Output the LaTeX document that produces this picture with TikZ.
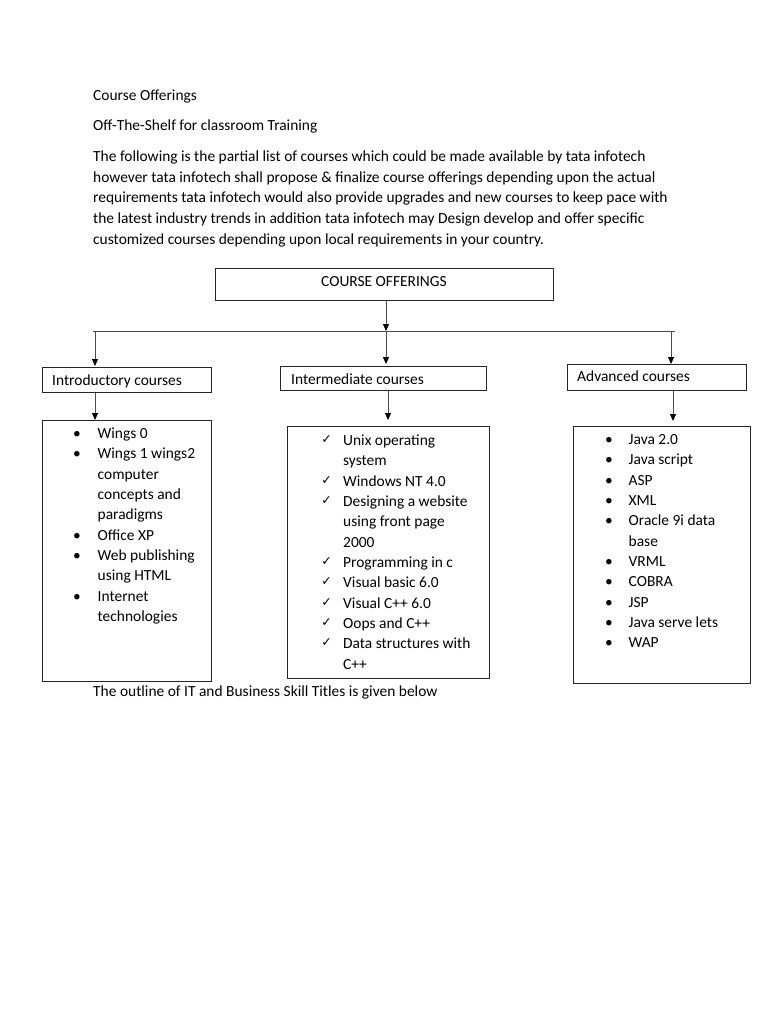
\documentclass[tikz,border=0pt]{standalone}
\usepackage{fontspec}
\setmainfont{Carlito}
\newfontfamily\symfont{DejaVu Sans}
\usetikzlibrary{arrows.meta}
\tikzset{
  txt/.style={anchor=base west, inner sep=0pt, font=\fontsize{15.45}{20}\selectfont},
  ctxt/.style={anchor=base, inner sep=0pt, font=\fontsize{15.45}{20}\selectfont},
  bul/.style={anchor=base, inner sep=0pt, font=\fontsize{15.45}{20}\selectfont},
  chk/.style={anchor=base, inner sep=0pt, font=\symfont\fontsize{12.5}{14}\selectfont},
  boxnode/.style={draw=black!85, line width=0.9pt, inner sep=0pt, anchor=north west},
  conn/.style={draw=black!70, line width=0.8pt},
  arr/.style={conn, -{Triangle[length=7pt,width=6pt,color=black]}}
}
\begin{document}
\begin{tikzpicture}[x=1pt,y=-1pt]
\useasboundingbox[fill=white] (0,0) rectangle (768,1024);

% heading text
\node[txt] (t1) at (93,101) {Course Offerings};
\node[txt] (t2) at (93,131) {Off-The-Shelf for classroom Training};
\node[txt] (p1) at (93,162) {The following is the partial list of courses which could be made available by tata infotech};
\node[txt] (p2) at (93,182.5) {however tata infotech shall propose \& finalize course offerings depending upon the actual};
\node[txt] (p3) at (93,203) {requirements tata infotech would also provide upgrades and new courses to keep pace with};
\node[txt] (p4) at (93,223.5) {the latest industry trends in addition tata infotech may Design develop and offer specific};
\node[txt] (p5) at (93,244) {customized courses depending upon local requirements in your country.};

% top box
\node[boxnode, minimum width=338pt, minimum height=32pt] (top) at (215,268) {};
\node[ctxt] (toplbl) at (384,286) {COURSE OFFERINGS};

% horizontal bar
\coordinate (hl) at (93,331);
\coordinate (hr) at (675,331);
\draw[conn] (hl) -- (hr);
\coordinate (hm) at (386,331);
\draw[arr] (top.south -| hm) -- (hm);

% level-2 boxes
\node[boxnode, minimum width=169pt, minimum height=25pt] (intro) at (42,367) {};
\node[txt] (introlbl) at (52,385.5) {Introductory courses};
\node[boxnode, minimum width=206pt, minimum height=24pt] (inter) at (280,366) {};
\node[txt] (interlbl) at (291,384) {Intermediate courses};
\node[boxnode, minimum width=179pt, minimum height=26pt] (adv) at (567,364) {};
\node[txt] (advlbl) at (577,381) {Advanced courses};

\coordinate (j1) at (95,331);
\coordinate (j2) at (386,331);
\coordinate (j3) at (671,331);
\coordinate (e1) at (95,366);
\coordinate (e2) at (386,364);
\coordinate (e3) at (671,364);
\draw[arr] (j1) -- (e1);
\draw[arr] (j2) -- (e2);
\draw[arr] (j3) -- (e3);

% list boxes
\node[boxnode, minimum width=169pt, minimum height=261pt] (listL) at (42,420) {};
\node[boxnode, minimum width=202pt, minimum height=252pt] (listM) at (287,426) {};
\node[boxnode, minimum width=177pt, minimum height=257pt] (listR) at (573,426) {};

\coordinate (f1) at (95,420);
\coordinate (f2) at (388,420);
\coordinate (f3) at (673,421);
\draw[arr] (intro.south -| f1) -- (f1);
\draw[arr] (inter.south -| f2) -- (f2);
\draw[arr] (adv.south -| f3) -- (f3);

% left list
\foreach [count=\i] \t/\b in {Wings 0/1, Wings 1 wings2/1, computer/0, concepts and/0, paradigms/0, Office XP/1, Web publishing/1, using HTML/0, Internet/1, technologies/0} {
  \node[txt] (la\i) at (97.5, {438.5+20.35*(\i-1)}) {\t};
  \ifnum\b=1 \node[bul] (lb\i) at (77, {438.5+20.35*(\i-1)}) {•}; \fi
}

% middle list
\foreach [count=\i] \t/\b in {Unix operating/1, system/0, Windows NT 4.0/1, Designing a website/1, using front page/0, 2000/0, Programming in c/1, Visual basic 6.0/1, Visual C++ 6.0/1, Oops and C++/1, Data structures with/1, C++/0} {
  \node[txt] (ma\i) at (343, {445.3+20.35*(\i-1)}) {\t};
  \ifnum\b=1 \node[chk] (mb\i) at (326.7, {443.3+20.35*(\i-1)}) {✓}; \fi
}

% right list
\foreach [count=\i] \t/\b in {Java 2.0/1, Java script/1, ASP/1, XML/1, Oracle 9i data/1, base/0, VRML/1, COBRA/1, JSP/1, Java serve lets/1, WAP/1} {
  \node[txt] (ra\i) at (628.5, {444.3+20.35*(\i-1)}) {\t};
  \ifnum\b=1 \node[bul] (rb\i) at (609, {444.3+20.35*(\i-1)}) {•}; \fi
}

\node[txt] (bottom) at (93,696) {The outline of IT and Business Skill Titles is given below};
\end{tikzpicture}
\end{document}
